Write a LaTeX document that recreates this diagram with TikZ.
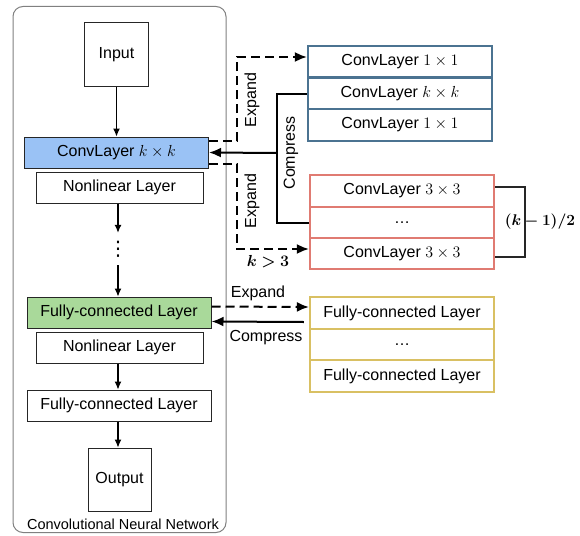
\documentclass[tikz,border=0pt]{standalone}
\usepackage{fix-cm}
\usepackage[no-math]{fontspec}
\setmainfont{Liberation Sans}
\newfontfamily\symfont{DejaVu Sans}
\usepackage{amsmath,bm}
\usetikzlibrary{positioning}
\usetikzlibrary{arrows.meta,calc}
\definecolor{convblue}{HTML}{9AC2F5}
\definecolor{fcgreen}{HTML}{A9D99A}
\definecolor{stackblue}{HTML}{4B7391}
\definecolor{stackred}{HTML}{E07B72}
\definecolor{stackyellow}{HTML}{D9C063}
\tikzstyle{layer}=[rectangle,draw=black!85,line width=1pt,inner sep=0pt,minimum height=31pt,font=\fontsize{16}{19}\selectfont]
\tikzstyle{stackrow}=[rectangle,draw,line width=2.2pt,inner sep=0pt,minimum width=184pt,minimum height=31.5pt,font=\fontsize{16}{19}\selectfont]
\tikzstyle{edge} = [draw,line width=1.1pt,-{Latex[length=8pt,width=7pt]}]
\tikzstyle{expandedge} = [draw,line width=2pt,dash pattern=on 9pt off 5pt,-{Latex[length=12pt,width=10pt]}]
\tikzstyle{compressedge} = [draw,line width=2pt,-{Latex[length=12pt,width=10pt]}]
\tikzstyle{compressline} = [draw,line width=2pt]
\tikzstyle{weight} = [font=\fontsize{16}{19}\selectfont]

\begin{document}
\begin{tikzpicture}[x=1pt,y=-1pt]
    \useasboundingbox (0,0) rectangle (580,535);
    % The network container
    \node[draw=black!50, line width=1pt, rounded corners=10pt, minimum width=213pt, minimum height=526pt, inner sep=0pt] (cnn) at (119.5,269.5) {};
    \node[font=\fontsize{14.5}{17}\selectfont] (cnnlabel) at (123,524) {Convolutional Neural Network};

    % First we draw the layers of the network
    \node[layer, minimum width=64pt, minimum height=63pt] (input) at (116.5,54.5) {Input};
    \node[layer, fill=convblue, minimum width=184pt] (conv) at (116.5,152.5) {ConvLayer $k\times k$};
    \node[layer, minimum width=167pt] (nlA) at (119.5,187.5) {Nonlinear Layer};
    \node[font=\symfont\fontsize{20}{22}\selectfont, inner sep=0pt, minimum height=32pt] (dots) at (118,249) {⋮};
    \node[layer, fill=fcgreen, minimum width=184pt] (fcA) at (119,312.5) {Fully-connected Layer};
    \node[layer, minimum width=167pt] (nlB) at (119.5,347.5) {Nonlinear Layer};
    \node[layer, minimum width=184pt] (fcB) at (119,405.5) {Fully-connected Layer};
    \node[layer, minimum width=63pt, minimum height=63pt] (output) at (119.5,479.5) {Output};

    % Connect the layers
    \path[edge] (input) -- (input |- conv.north);
    \path[edge] (nlA.south -| dots) -- (dots.north);
    \path[edge] (dots.south) -- (dots |- fcA.north);
    \path[edge] (nlB.south -| dots) -- (dots |- fcB.north);
    \path[edge] (fcB.south -| dots) -- (dots |- output.north);

    % Then the stacks of layers on the right
    \foreach \pos/\name/\label/\col in {{(400,61.5)/B1/ConvLayer $1\times 1$/stackblue}, {(400,93.5)/B2/ConvLayer $k\times k$/stackblue}, {(400,125)/B3/ConvLayer $1\times 1$/stackblue},
        {(402,191)/R1/ConvLayer $3\times 3$/stackred}, {(402,222.5)/R2/\ldots/stackred}, {(402,253.5)/R3/ConvLayer $3\times 3$/stackred},
        {(402,313)/Y1/Fully-connected Layer/stackyellow}, {(402,344.5)/Y2/\ldots/stackyellow}, {(402,376)/Y3/Fully-connected Layer/stackyellow}}
        \node[stackrow, draw=\col] (\name) at \pos {\label};

    % Expand and compress the convolution
    \coordinate (expup) at (237,141);
    \coordinate (expdown) at (237,164);
    \coordinate (cmp) at (277,153);
    \path[expandedge] (conv.east |- expup) -- (expup) |- ([yshift=4.5pt]B1.west);
    \path[expandedge] (conv.east |- expdown) -- (expdown) |- ([yshift=4.5pt]R3.west);
    \path[compressline] (B2.west) -| (cmp) |- (R2.west);
    \path[compressedge] (cmp) -- (conv.east);
    \node[weight, rotate=90] (expA) at (252,100) {Expand};
    \node[weight, rotate=90] (expB) at (252,201) {Expand};
    \node[weight, rotate=90] (cmpA) at (291,153) {Compress};
    \node[weight] (kcond) at (268,262) {$\boldsymbol{k>3}$};

    % the repeated 3x3 layers
    \draw[line width=1.2pt, black!85] ([yshift=4pt]R1.east) -- (525,187) |- ([yshift=-3.5pt]R3.east);
    \node[font=\fontsize{15.5}{18}\selectfont] (reps) at (540,222) {$\boldsymbol{(k-1)/2}$};

    % Expand and compress the fully-connected layer
    \path[expandedge] ([yshift=6pt]fcA.east) -- ([yshift=6pt]Y1.west);
    \path[compressedge] ([yshift=-9pt,xshift=-5pt]Y1.west) -- ([yshift=-9pt]fcA.east);
    \node[weight] (expC) at (258,293) {Expand};
    \node[weight] (cmpB) at (266,338) {Compress};
\end{tikzpicture}
\end{document}
